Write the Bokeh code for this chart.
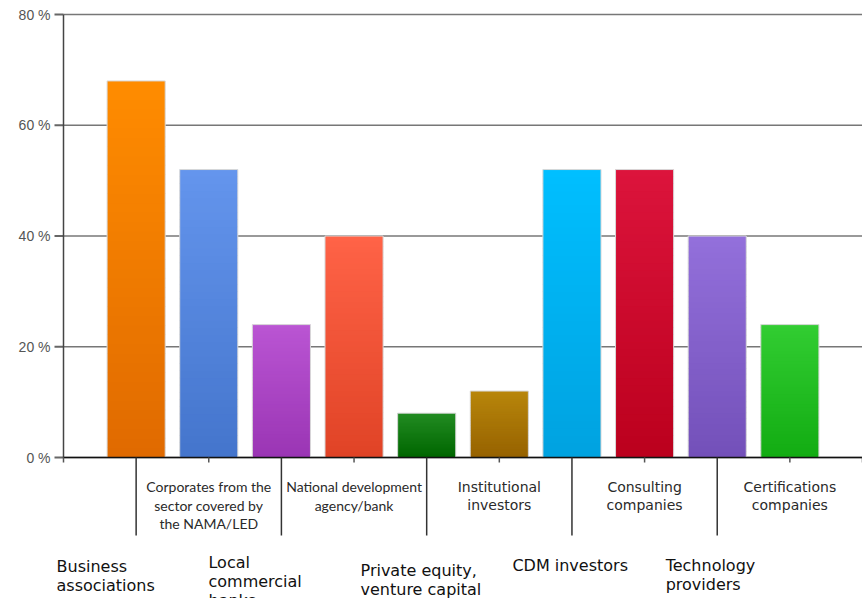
from bokeh.plotting import figure
from bokeh.models import Range1d, ColumnDataSource
from bokeh.core.properties import value
from bokeh.embed import file_html
from bokeh.resources import INLINE

# ---- data ----
categories = [
    "Business\nassociations",
    "Corporates from the\nsector covered by\nthe NAMA/LED",
    "Local\ncommercial\nbanks",
    "National development\nagency/bank",
    "Private equity,\nventure capital",
    "Institutional\ninvestors",
    "CDM investors",
    "Consulting\ncompanies",
    "Technology\nproviders",
    "Certifications\ncompanies",
]
values = [68, 52, 24, 40, 8, 12, 52, 52, 40, 24]
y_ticks = [0, 20, 40, 60, 80]
y_tick_labels = [f"{t} %" for t in y_ticks]
separator_ticks = [1, 3, 5, 7, 9]
short_ticks = [0, 2, 4, 6, 8, 10, 11]

# ---- styles ----
top_colors = ["#FF8C00", "#6495ED", "#BA55D3", "#FF6347", "#228B22",
              "#B8860B", "#00BFFF", "#DC143C", "#9370DB", "#32CD32"]
bottom_colors = ["#E06A00", "#4475CC", "#9A35B4", "#E04326", "#006600",
                 "#966200", "#00A2E0", "#BB001D", "#7350B9", "#12AC12"]
# fonts of the upper (even) labels: the first two are set in a narrow face
upper_fonts = ["Lato", "Lato", "DejaVu Sans", "DejaVu Sans", "DejaVu Sans"]


def hex2rgb(h):
    h = h.lstrip("#")
    return tuple(int(h[k:k + 2], 16) for k in (0, 2, 4))


def mix(c0, c1, f):
    a, b = hex2rgb(c0), hex2rgb(c1)
    return "#%02x%02x%02x" % tuple(round(a[k] + (b[k] - a[k]) * f) for k in range(3))


HEIGHT, WIDTH = 598, 862
PY = 5.5375            # pixels per percent on the y scale
PXU = 72.636           # pixels per category unit on the x scale
AXIS_LEFT = 63         # pixel position of the value axis
AXIS_TOP = 14          # pixel position of the 80 % line
y_top = 80 + AXIS_TOP / PY
y_bottom = y_top - HEIGHT / PY
x_left = -AXIS_LEFT / PXU
x_right = x_left + WIDTH / PXU

p = figure(width=WIDTH, height=HEIGHT, output_backend="svg", toolbar_location=None,
           x_range=Range1d(x_left, x_right), y_range=Range1d(y_bottom, y_top),
           min_border_left=0, min_border_right=0, min_border_top=0,
           min_border_bottom=0)
p.outline_line_color = None
p.background_fill_color = "white"
p.border_fill_color = "white"
p.xaxis.visible = False
p.yaxis.visible = False
p.xgrid.grid_line_color = None
p.ygrid.grid_line_color = None

# horizontal grid lines and value-axis ticks
n = len(y_ticks)
p.segment(x0=[0] * n, y0=y_ticks, x1=[11] * n, y1=y_ticks,
          line_color="#777777", line_width=1.5)
p.segment(x0=[-9 / PXU] * n, y0=y_ticks, x1=[0] * n, y1=y_ticks,
          line_color="#666666", line_width=2)
p.text(x=[-13 / PXU] * n, y=y_ticks, text=y_tick_labels,
       text_font=value("Liberation Sans"), text_font_size="14px",
       text_color="#555555", text_align="right", text_baseline="middle")

# gradient bars (overlapping slices from bottom colour to top colour)
N = 40
bar_w = 0.8
L, R, B, T, C = [], [], [], [], []
for i, v in enumerate(values):
    xc = i + 1
    for j in range(N):
        L.append(xc - bar_w / 2)
        R.append(xc + bar_w / 2)
        B.append(v * j / N)
        T.append(min(v, v * (j + 1) / N + 0.15))
        C.append(mix(bottom_colors[i], top_colors[i], (j + 0.5) / N))
src = ColumnDataSource(dict(left=L, right=R, bottom=B, top=T, color=C))
p.quad(left="left", right="right", bottom="bottom", top="top", source=src,
       fill_color="color", line_color=None)

xs = [i + 1 for i in range(len(values))]
osrc = ColumnDataSource(dict(left=[x - bar_w / 2 for x in xs],
                             right=[x + bar_w / 2 for x in xs],
                             bottom=[0] * len(values), top=values))
p.quad(left="left", right="right", bottom="bottom", top="top", source=osrc,
       fill_color=None, line_color="#d8d8d8", line_width=1)

# value axis line
p.segment(x0=[0], y0=[0], x1=[0], y1=[80], line_color="#444444", line_width=1.5)

# category axis line and ticks
p.segment(x0=[0], y0=[0], x1=[11], y1=[0], line_color="#111111", line_width=1.5)
p.segment(x0=separator_ticks, y0=[0] * len(separator_ticks),
          x1=separator_ticks, y1=[-78 / PY] * len(separator_ticks),
          line_color="#333333", line_width=1.5)
p.segment(x0=short_ticks, y0=[0] * len(short_ticks),
          x1=short_ticks, y1=[-5 / PY] * len(short_ticks),
          line_color="#555555", line_width=1.5)

# lower (odd) category labels
odd_left = [-0.096, 1.996, 4.089, 6.18, 8.29]       # left edge of lower labels (x units)
odd_first = [566, 562, 570, 565, 565]               # first line centre (px from top)
ox, oy, ot = [], [], []
for k, i in enumerate(range(0, 10, 2)):
    for m, line in enumerate(categories[i].split("\n")):
        ox.append(odd_left[k])
        oy.append(-(odd_first[k] + m * 19 - 457) / PY)
        ot.append(line)
p.text(x=ox, y=oy, text=ot, text_font=value("DejaVu Sans"), text_font_size="16px",
       text_color="#111111", text_align="left", text_baseline="middle")

# upper (even) category labels
groups = {}
for k, i in enumerate(range(1, 10, 2)):
    g = groups.setdefault(upper_fonts[k], ([], [], []))
    for m, line in enumerate(categories[i].split("\n")):
        g[0].append(i + 1)
        g[1].append(-(486 + m * 18.5 - 457) / PY)
        g[2].append(line)
for font, (gx, gy, gt) in groups.items():
    p.text(x=gx, y=gy, text=gt, text_font=value(font), text_font_size="14px",
           text_color="#2a2a2a", text_align="center", text_baseline="middle")

open("out.html", "w").write(file_html(p, INLINE))
